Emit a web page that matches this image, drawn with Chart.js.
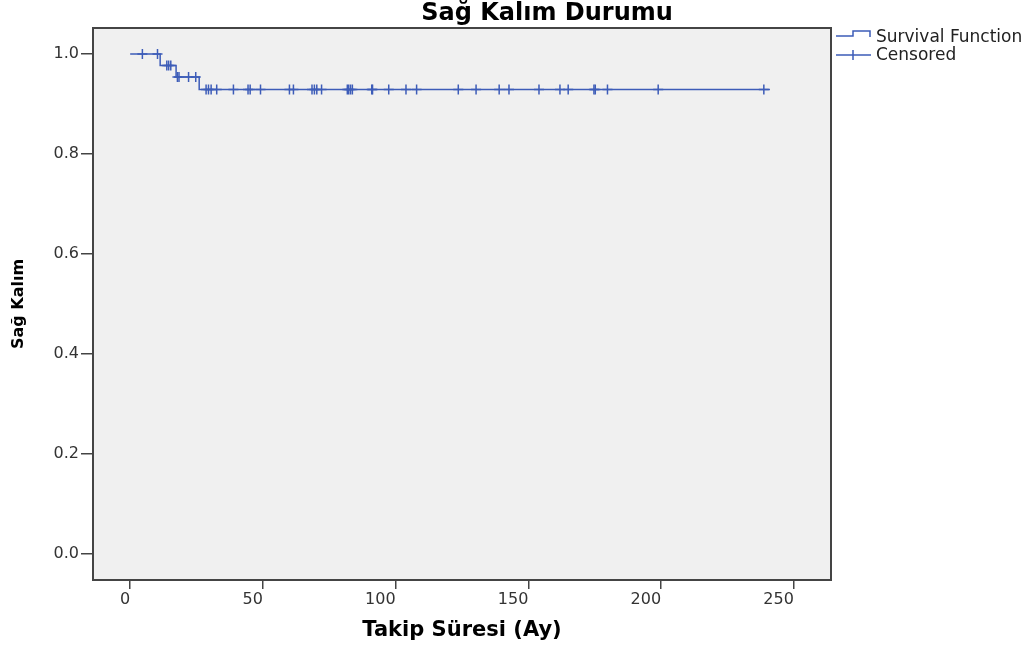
<!DOCTYPE html>
<html>
<head>
<meta charset="utf-8">
<script src="https://cdn.jsdelivr.net/npm/chart.js"></script>
<style>
  html, body { margin: 0; padding: 0; background: #fff; }
</style>
</head>
<body>
<canvas id="kmChart" width="1035" height="655"></canvas>
<script>
// Kaplan-Meier steps (month, survival)
const kmTimes = [0, 11.3, 17.3, 26, 241];
const kmSurvival = [1.0, 0.977, 0.954, 0.929, 0.929];

// censored observations
const censoredTimes = [
  4.6, 10.3,
  13.8, 14.5, 15.3,
  17.8, 18.4, 22, 24.7,
  28.6, 29.5, 30.5, 32.6, 38.9, 44.4, 45.2, 49.1, 60, 61.5,
  68.5, 69.4, 70.3, 72.1, 81.8, 82.3, 83, 83.7, 91, 91.3,
  97.4, 103.9, 107.9, 123.6, 130.3, 139, 142.7, 154, 161.9, 165,
  174.7, 175.2, 179.8, 198.9, 238.7
];
const censoredSurvival = [
  1.0, 1.0,
  0.977, 0.977, 0.977,
  0.954, 0.954, 0.954, 0.954,
  0.929, 0.929, 0.929, 0.929, 0.929, 0.929, 0.929, 0.929, 0.929, 0.929,
  0.929, 0.929, 0.929, 0.929, 0.929, 0.929, 0.929, 0.929, 0.929, 0.929,
  0.929, 0.929, 0.929, 0.929, 0.929, 0.929, 0.929, 0.929, 0.929, 0.929,
  0.929, 0.929, 0.929, 0.929, 0.929
];

const xTicks = [0, 50, 100, 150, 200, 250];
const yTicks = [0.0, 0.2, 0.4, 0.6, 0.8, 1.0];

const lineColor = '#3d5cb8';
const axisColor = '#444';
const fontFamily = '"DejaVu Sans", Arial, sans-serif';

const framePlugin = {
  id: 'frame',
  beforeDraw(chart) {
    const { ctx, chartArea: a } = chart;
    ctx.save();
    ctx.fillStyle = '#f0f0f0';
    ctx.fillRect(a.left, a.top, a.width, a.height);
    ctx.restore();
  },
  afterDraw(chart) {
    const { ctx, chartArea: a } = chart;
    ctx.save();
    // box
    ctx.strokeStyle = axisColor;
    ctx.lineWidth = 2;
    ctx.strokeRect(a.left, a.top, a.width, a.height);

    // title
    ctx.fillStyle = '#000';
    ctx.font = 'bold 24px ' + fontFamily;
    ctx.textAlign = 'center';
    ctx.textBaseline = 'alphabetic';
    ctx.fillText('Sağ Kalım Durumu', 547, 20);

    // legend
    ctx.strokeStyle = lineColor;
    ctx.lineWidth = 1.5;
    ctx.beginPath();
    ctx.moveTo(836, 36);
    ctx.lineTo(853, 36);
    ctx.lineTo(853, 31);
    ctx.lineTo(870, 31);
    ctx.lineTo(870, 37);
    ctx.stroke();
    ctx.beginPath();
    ctx.moveTo(836, 55);
    ctx.lineTo(871, 55);
    ctx.moveTo(853, 50);
    ctx.lineTo(853, 60);
    ctx.stroke();

    ctx.fillStyle = '#222';
    ctx.font = '17px ' + fontFamily;
    ctx.textAlign = 'left';
    ctx.textBaseline = 'middle';
    ctx.fillText('Survival Function', 876, 38);
    ctx.fillText('Censored', 876, 56);
    ctx.restore();
  }
};

const ctx = document.getElementById('kmChart').getContext('2d');

new Chart(ctx, {
  type: 'scatter',
  data: {
    datasets: [
      {
        label: 'Survival Function',
        data: kmTimes.map((t, i) => ({ x: t, y: kmSurvival[i] })),
        showLine: true,
        stepped: true,
        borderColor: lineColor,
        borderWidth: 1.5,
        pointRadius: 0,
        fill: false,
      },
      {
        label: 'Censored',
        data: censoredTimes.map((t, i) => ({ x: t, y: censoredSurvival[i] })),
        showLine: false,
        pointStyle: 'cross',
        pointRadius: 5,
        borderColor: lineColor,
        borderWidth: 1.5,
      },
    ],
  },
  options: {
    responsive: false,
    devicePixelRatio: 1,
    animation: false,
    layout: { padding: { top: 28, right: 204, left: 0, bottom: 0 } },
    plugins: {
      legend: { display: false },
      tooltip: { enabled: false },
    },
    scales: {
      x: {
        type: 'linear',
        min: -14,
        max: 264,
        afterBuildTicks: (s) => { s.ticks = xTicks.map(v => ({ value: v })); },
        afterFit: (s) => { s.height = 75; },
        ticks: {
          align: 'end',
          padding: 1,
          color: '#333',
          font: { family: fontFamily, size: 16 },
          callback: (v) => String(v),
        },
        grid: { drawOnChartArea: false, tickLength: 9, color: axisColor, lineWidth: 1.5 },
        border: { display: true, color: axisColor, width: 2 },
        title: {
          display: true,
          text: 'Takip Süresi (Ay)',
          color: '#000',
          font: { family: fontFamily, size: 21, weight: 'bold' },
          padding: { top: 12, bottom: 12 },
        },
      },
      y: {
        type: 'linear',
        min: -0.052,
        max: 1.052,
        afterBuildTicks: (s) => { s.ticks = yTicks.map(v => ({ value: v })); },
        afterFit: (s) => { s.width = 93; },
        ticks: {
          padding: 2,
          color: '#333',
          font: { family: fontFamily, size: 16 },
          callback: (v) => Number(v).toFixed(1),
        },
        grid: { drawOnChartArea: false, tickLength: 12, color: axisColor, lineWidth: 1.5 },
        border: { display: true, color: axisColor, width: 2 },
        title: {
          display: true,
          text: 'Sağ Kalım',
          color: '#000',
          font: { family: fontFamily, size: 16, weight: 'bold' },
          padding: { top: 9, bottom: 9 },
        },
      },
    },
  },
  plugins: [framePlugin],
});
</script>
</body>
</html>
